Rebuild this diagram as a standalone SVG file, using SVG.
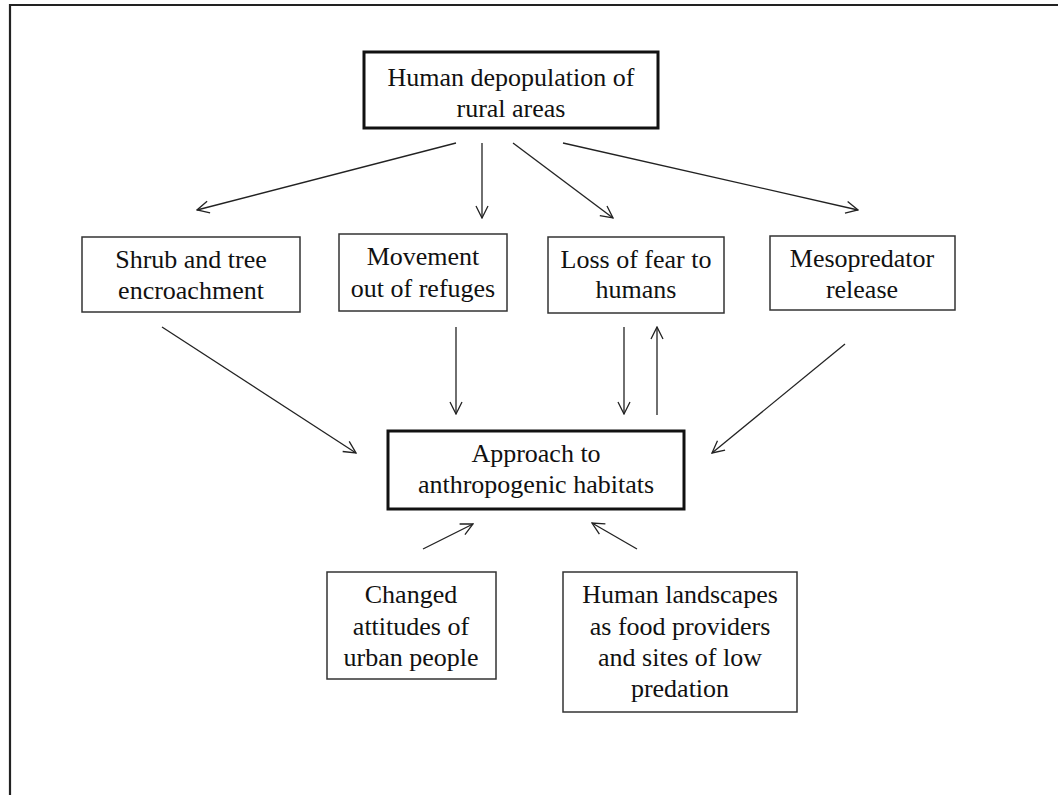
<svg xmlns="http://www.w3.org/2000/svg" width="1058" height="795" viewBox="0 0 1058 795">
  <style>
    .box { fill: #fff; stroke: #333; stroke-width: 1.5; }
    .main { fill: #fff; stroke: #111; stroke-width: 3; }
    .lbl { font-family: "Liberation Serif", "Times New Roman", serif; font-size: 26px; fill: #111; text-anchor: middle; }
    .edge { stroke: #222; stroke-width: 1.3; fill: none; marker-end: url(#arr); }
  </style>
  <defs>
    <marker id="arr" viewBox="0 0 14 14" refX="13" refY="7" markerWidth="14" markerHeight="14" markerUnits="userSpaceOnUse" orient="auto">
      <path d="M1,1 L13,7 L1,13" fill="none" stroke="#222" stroke-width="1.3"/>
    </marker>
  </defs>
  <rect width="1058" height="795" fill="#fff"/>
  <path d="M10,795 V5 H1058" fill="none" stroke="#222" stroke-width="2.2"/>

  <g id="connectors">
    <line class="edge" x1="456" y1="143" x2="197" y2="210"/>
    <line class="edge" x1="482" y1="143" x2="482" y2="218"/>
    <line class="edge" x1="513" y1="143" x2="613" y2="218"/>
    <line class="edge" x1="563" y1="143" x2="858" y2="210"/>
    <line class="edge" x1="162" y1="327" x2="356" y2="453"/>
    <line class="edge" x1="456" y1="327" x2="456" y2="414"/>
    <line class="edge" x1="624" y1="327" x2="624" y2="414"/>
    <line class="edge" x1="657" y1="415" x2="657" y2="327"/>
    <line class="edge" x1="845" y1="344" x2="712" y2="453"/>
    <line class="edge" x1="423" y1="549" x2="473" y2="524"/>
    <line class="edge" x1="637" y1="549" x2="592" y2="523"/>
  </g>

  <g id="node-depopulation">
    <rect class="main" x="364" y="52" width="294" height="76"/>
    <text class="lbl" x="511" y="86">Human depopulation of</text>
    <text class="lbl" x="511" y="117">rural areas</text>
  </g>
  <g id="node-shrub">
    <rect class="box" x="82" y="237" width="218" height="75"/>
    <text class="lbl" x="191" y="268">Shrub and tree</text>
    <text class="lbl" x="191" y="299">encroachment</text>
  </g>
  <g id="node-movement">
    <rect class="box" x="339" y="234" width="168" height="77"/>
    <text class="lbl" x="423" y="265">Movement</text>
    <text class="lbl" x="423" y="297">out of refuges</text>
  </g>
  <g id="node-fear">
    <rect class="box" x="548" y="237" width="176" height="76"/>
    <text class="lbl" x="636" y="268">Loss of fear to</text>
    <text class="lbl" x="636" y="298">humans</text>
  </g>
  <g id="node-meso">
    <rect class="box" x="770" y="236" width="185" height="74"/>
    <text class="lbl" x="862" y="267">Mesopredator</text>
    <text class="lbl" x="862" y="298">release</text>
  </g>
  <g id="node-approach">
    <rect class="main" x="388" y="431" width="296" height="78"/>
    <text class="lbl" x="536" y="462">Approach to</text>
    <text class="lbl" x="536" y="493">anthropogenic habitats</text>
  </g>
  <g id="node-attitudes">
    <rect class="box" x="327" y="572" width="169" height="107"/>
    <text class="lbl" x="411" y="603">Changed</text>
    <text class="lbl" x="411" y="635">attitudes of</text>
    <text class="lbl" x="411" y="666">urban people</text>
  </g>
  <g id="node-landscapes">
    <rect class="box" x="563" y="572" width="234" height="140"/>
    <text class="lbl" x="680" y="603">Human landscapes</text>
    <text class="lbl" x="680" y="635">as food providers</text>
    <text class="lbl" x="680" y="666">and sites of low</text>
    <text class="lbl" x="680" y="697">predation</text>
  </g>
</svg>
